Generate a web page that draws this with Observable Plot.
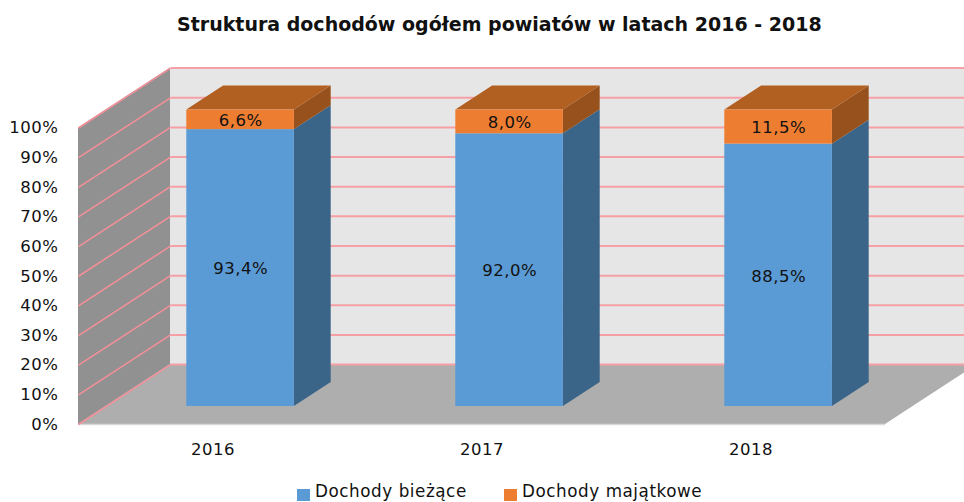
<!DOCTYPE html>
<html lang="pl">
<head>
<meta charset="utf-8">
<script src="https://cdn.jsdelivr.net/npm/d3@7"></script>
<script src="https://cdn.jsdelivr.net/npm/@observablehq/plot@0.6"></script>
<style>
html,body{margin:0;padding:0;background:#fff;width:964px;height:502px;overflow:hidden;font-family:"DejaVu Sans",sans-serif;color:#111}
#title{position:relative;height:50px;font-weight:700;font-size:19px;line-height:26px;white-space:nowrap}
#title span{position:absolute;left:177px;top:11px}
#chart{height:420px}
#legend{position:relative;height:32px;font-size:16.8px;letter-spacing:.55px}
#legend i{position:absolute;top:19px;width:13px;height:12px}
#legend span{position:absolute;top:11px;line-height:21px;white-space:nowrap}
</style>
</head>
<body>
<div id="title"><span></span></div>
<div id="chart"></div>
<div id="legend"></div>
<script>
const chartTitle = "Struktura dochodów ogółem powiatów w latach 2016 - 2018";
const years = ["2016", "2017", "2018"];
const seriesNames = ["Dochody bieżące", "Dochody majątkowe"];
const biezace = [93.4, 92.0, 88.5];
const majatkowe = [6.6, 8.0, 11.5];
const biezaceLabels = ["93,4%", "92,0%", "88,5%"];
const majatkoweLabels = ["6,6%", "8,0%", "11,5%"];
const yTicks = [0, 10, 20, 30, 40, 50, 60, 70, 80, 90, 100];

// Oblique projection: a full step of depth moves this far in x (category units) and y (percent)
const depthX = 0.342, depthY = 20.2;
const barWidth = 0.4, barDepthStart = 0.3, barDepthEnd = 0.7;
const xAt = (c, d) => c + d * depthX;
const yAt = (p, d) => p + d * depthY;

const segments = years.flatMap((year, i) => [
  {i, lo: 0, hi: biezace[i], label: biezaceLabels[i], front: "#5B9BD5", side: "#3A6488", top: "#3A6488"},
  {i, lo: biezace[i], hi: biezace[i] + majatkowe[i], label: majatkoweLabels[i], front: "#ED7D31", side: "#97511C", top: "#B25F22"}
]);
const c0 = s => s.i + 0.5 - barWidth / 2;
const c1 = s => s.i + 0.5 + barWidth / 2;

const sideFaces = segments.flatMap((s, k) => [barDepthStart, barDepthEnd].map(d => ({
  k, x: xAt(c1(s), d), y1: yAt(s.lo, d), y2: yAt(s.hi, d), fill: s.side
})));
const topFaces = segments.filter(s => s.hi >= 99.9).flatMap((s, k) => [barDepthStart, barDepthEnd].map(d => ({
  k, x1: xAt(c0(s), d), x2: xAt(c1(s), d), y: yAt(s.hi, d), fill: s.top
})));
const leftWall = [0, 1].map(d => ({x: xAt(0, d), y1: yAt(0, d), y2: yAt(100, d)}));
const floor = [0, 1].map(d => ({x1: xAt(0, d), x2: xAt(3, d), y: yAt(0, d)}));

const plot = Plot.plot({
  width: 964,
  height: 420,
  marginLeft: 78,
  marginRight: 79,
  marginTop: 77.5,
  marginBottom: 46,
  style: {fontFamily: '"DejaVu Sans",sans-serif', fontSize: "16.5px", letterSpacing: "0.5px", color: "#111", background: "transparent"},
  x: {domain: [0, 3]},
  y: {domain: [0, 100]},
  marks: [
    // back wall
    Plot.rect([0], {x1: xAt(0, 1), x2: xAt(3.2, 1), y1: yAt(0, 1), y2: yAt(100, 1), fill: "#E6E6E6"}),
    // floor
    Plot.areaX(floor, {y: "y", x1: "x1", x2: "x2", fill: "#AEAEAE"}),
    Plot.ruleY([0], {x1: 0, x2: 3, stroke: "#D9D9D9", strokeWidth: 1.5}),
    // left wall
    Plot.areaY(leftWall, {x: "x", y1: "y1", y2: "y2", fill: "#919191"}),
    // gridlines on both walls
    Plot.link(yTicks, {
      x1: xAt(0, 1), x2: xAt(3.2, 1),
      y1: d => yAt(d, 1), y2: d => yAt(d, 1),
      stroke: "#F6A0A6", strokeWidth: 2
    }),
    Plot.link(yTicks, {
      x1: xAt(0, 0), x2: xAt(0, 1),
      y1: d => yAt(d, 0), y2: d => yAt(d, 1),
      stroke: "#F58F98", strokeWidth: 1.5
    }),
    // bars: side, top, front
    Plot.areaY(sideFaces, {x: "x", y1: "y1", y2: "y2", z: "k", fill: "fill"}),
    Plot.areaX(topFaces, {y: "y", x1: "x1", x2: "x2", z: "k", fill: "fill"}),
    Plot.rect(segments, {
      x1: s => xAt(c0(s), barDepthStart),
      x2: s => xAt(c1(s), barDepthStart),
      y1: s => yAt(s.lo, barDepthStart),
      y2: s => yAt(s.hi, barDepthStart),
      fill: "front"
    }),
    // value labels
    Plot.text(segments, {
      x: s => xAt(s.i + 0.5, barDepthStart),
      y: s => yAt((s.lo + s.hi) / 2, barDepthStart),
      text: "label",
      fill: "#111",
      fontSize: 16.5,
      dy: 1
    }),
    // axes
    Plot.axisY(yTicks, {tickSize: 0, tickPadding: 20, tickFormat: d => d + "%", label: null, fontSize: 16.5}),
    Plot.axisX(years.map((y, i) => i + 0.5), {
      tickSize: 0, tickPadding: 19, tickFormat: d => years[d - 0.5], label: null, fontSize: 16.5
    })
  ]
});
document.getElementById("chart").append(plot);
document.querySelector("#title span").textContent = chartTitle;
const legendColors = ["#5B9BD5", "#ED7D31"];
const legendX = [297, 504];
document.getElementById("legend").innerHTML = seriesNames.map((n, i) =>
  `<i style="left:${legendX[i]}px;background:${legendColors[i]}"></i><span style="left:${legendX[i] + 18}px">${n}</span>`
).join("");
</script>
</body>
</html>
